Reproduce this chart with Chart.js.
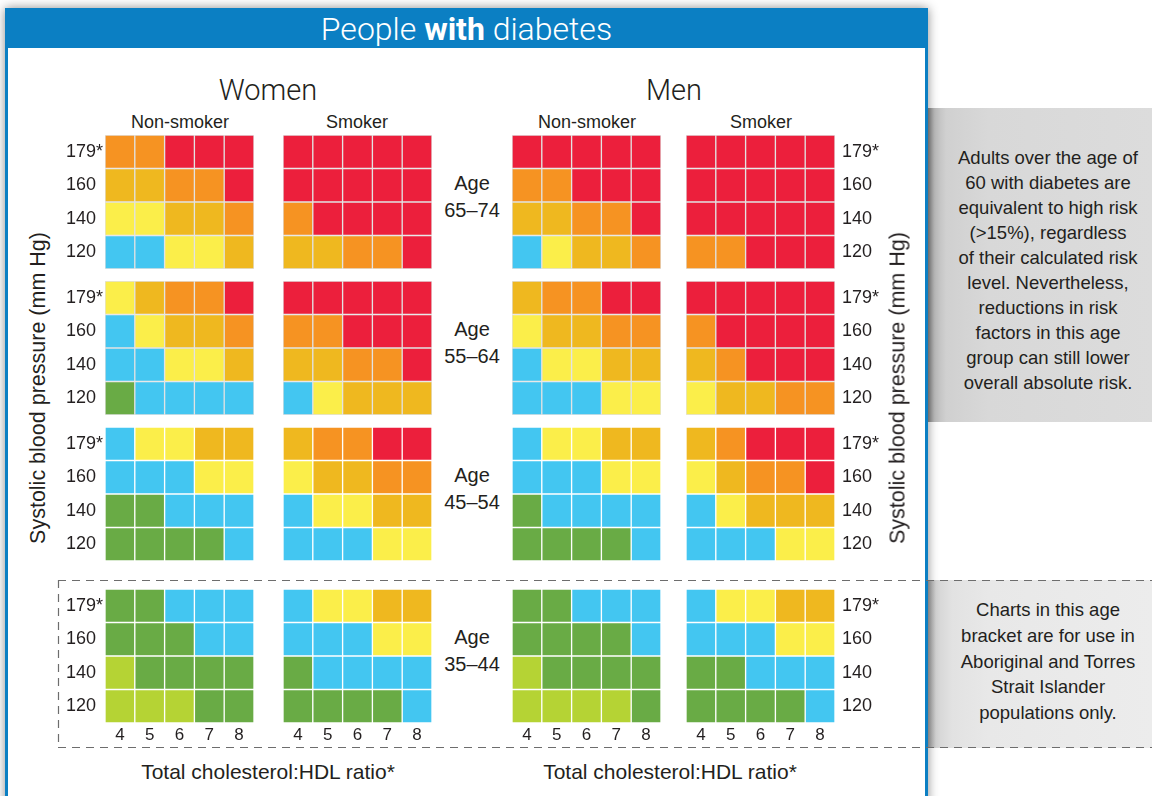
<!DOCTYPE html>
<html>
<head>
<meta charset="utf-8">
<script src="https://cdn.jsdelivr.net/npm/chart.js@4.4.1/dist/chart.umd.min.js"></script>
<style>
body { margin:0; width:1152px; height:796px; overflow:hidden; background:#fff; position:relative;
       font-family:"Liberation Sans", Arial, sans-serif; color:#231f20; }
.abs { position:absolute; }
.txt { position:absolute; transform:translate(-50%,-50%); white-space:nowrap; }
#panel { left:5px; top:8px; width:917px; height:820px; background:#fff;
         border-left:3px solid #0b7fc3; border-right:3px solid #0b7fc3;
         box-shadow:0 0 10px rgba(0,0,0,0.45); z-index:2; }
#head { left:5px; top:8px; width:923px; height:40px; background:#0b7fc3; color:#fff;
        font:300 32px Roboto, sans-serif; text-align:center; line-height:42px; z-index:3; }
#head b { font-weight:700; }
.side { left:928px; width:208px; padding-left:16px; text-align:center; font-size:18.5px; line-height:25px; z-index:1; }
#side1 { top:108px; height:314px; background:linear-gradient(to right,#8c8c8c 0px,#bababa 6px,#d0d0d0 18px,#d8d8d8 60px,#dcdcdc 100%); }
#side2 { top:580px; height:168px; line-height:25.75px; background:linear-gradient(to right,#a8a8a8 0px,#d4d4d4 8px,#e2e2e2 24px,#e8e8e8 60px,#ececec 100%); }
svg, canvas, .txt { z-index:4; }
</style>
</head>
<body>
<div id="panel" class="abs"></div>
<div id="head" class="abs">People <b>with</b> diabetes</div>
<div id="side1" class="abs side"><div style="padding-top:37px">Adults over the age of<br>60 with diabetes are<br>equivalent to high risk<br>(&gt;15%), regardless<br>of their calculated risk<br>level. Nevertheless,<br>reductions in risk<br>factors in this age<br>group can still lower<br>overall absolute risk.</div></div>
<div id="side2" class="abs side"><div style="padding-top:17px">Charts in this age<br>bracket are for use in<br>Aboriginal and Torres<br>Strait Islander<br>populations only.</div></div>
<svg class="abs" style="left:0;top:0" width="1152" height="796">
  <path d="M58 580.5 H1152 M58 747.5 H1152 M58.5 580 V748" stroke="#6d6d6d" stroke-width="1.2" stroke-dasharray="8 6" fill="none"/>
</svg>
<script>
var cholRatios = ['4', '5', '6', '7', '8'];
var bpLabels = ['179*', '160', '140', '120'];
var ageGroups = ['65–74', '55–64', '45–54', '35–44'];
// 0 light green, 1 green, 2 blue, 3 yellow, 4 gold, 5 orange, 6 red
var riskColours = ['#b5d334', '#69ab45', '#43c6f1', '#fbee4a', '#efb81f', '#f69322', '#ec1f3c'];

// rows are 179*, 160, 140, 120 ; columns are ratio 4..8
var women65Non = [[5,5,6,6,6],[4,4,5,5,6],[3,3,4,4,5],[2,2,3,3,4]];
var women65Smk = [[6,6,6,6,6],[6,6,6,6,6],[5,6,6,6,6],[4,4,5,5,6]];
var men65Non   = [[6,6,6,6,6],[5,5,6,6,6],[4,4,5,5,6],[2,3,4,4,5]];
var men65Smk   = [[6,6,6,6,6],[6,6,6,6,6],[6,6,6,6,6],[5,5,6,6,6]];

var women55Non = [[3,4,5,5,6],[2,3,4,4,5],[2,2,3,3,4],[1,2,2,2,2]];
var women55Smk = [[6,6,6,6,6],[5,5,6,6,6],[4,4,5,5,6],[2,3,4,4,4]];
var men55Non   = [[4,5,5,6,6],[3,4,4,5,5],[2,3,3,4,4],[2,2,2,3,3]];
var men55Smk   = [[6,6,6,6,6],[5,6,6,6,6],[4,5,6,6,6],[3,4,4,5,5]];

var women45Non = [[2,3,3,4,4],[2,2,2,3,3],[1,1,2,2,2],[1,1,1,1,2]];
var women45Smk = [[4,5,5,6,6],[3,4,4,5,5],[2,3,3,4,4],[2,2,2,3,3]];
var men45Non   = [[2,3,3,4,4],[2,2,2,3,3],[1,2,2,2,2],[1,1,1,1,2]];
var men45Smk   = [[4,5,6,6,6],[3,4,5,5,6],[2,3,4,4,4],[2,2,2,3,3]];

var women35Non = [[1,1,2,2,2],[1,1,1,2,2],[0,1,1,1,1],[0,0,0,1,1]];
var women35Smk = [[2,3,3,4,4],[2,2,2,3,3],[1,2,2,2,2],[1,1,1,1,2]];
var men35Non   = [[1,1,2,2,2],[1,1,1,1,2],[0,1,1,1,1],[0,0,0,0,1]];
var men35Smk   = [[2,3,3,4,4],[2,2,2,3,3],[1,1,2,2,2],[1,1,1,1,2]];

var allGrids = [
  [women65Non, women65Smk, men65Non, men65Smk],
  [women55Non, women55Smk, men55Non, men55Smk],
  [women45Non, women45Smk, men45Non, men45Smk],
  [women35Non, women35Smk, men35Non, men35Smk]
];

var gridLeft = [106, 284, 513, 687];
var gridTop = [136, 282, 428, 590];
var gapColour = ['#e2e2e2', '#e2e2e2', '#ffffff', '#ffffff'];
var tickFont = { family: 'Liberation Sans', size: 18 };

function label(text, cx, cy, css) {
  var d = document.createElement('div');
  d.className = 'txt';
  d.innerHTML = text;
  d.style.left = cx + 'px';
  d.style.top = cy + 'px';
  d.style.cssText += css || '';
  document.body.appendChild(d);
}

function noPad(s) {
  s.paddingTop = 0; s.paddingBottom = 0; s.paddingLeft = 0; s.paddingRight = 0;
}

function grid(cells, col, row) {
  var showLeft = col == 0, showRight = col == 3, showX = row == 3;
  var L = showLeft ? 39 : 0, R = showRight ? 60 : 0, B = showX ? 26 : 0;
  var w = 149, h = 134;
  var c = document.createElement('canvas');
  c.width = w + L + R;
  c.height = h + B;
  c.className = 'abs';
  c.style.left = (gridLeft[col] - 1 - L) + 'px';
  c.style.top = (gridTop[row] - 1) + 'px';
  document.body.appendChild(c);

  var datasets = [];
  for (var r = 3; r >= 0; r--) {
    datasets.push({
      label: bpLabels[r],
      data: cholRatios.map(function() { return 1; }),
      backgroundColor: cells[r].map(function(v) { return riskColours[v]; }),
      borderColor: gapColour[row],
      borderWidth: 1,
      borderSkipped: false,
      barPercentage: 1,
      categoryPercentage: 1
    });
  }

  new Chart(c, {
    type: 'bar',
    data: { labels: cholRatios, datasets: datasets },
    options: {
      responsive: false,
      animation: false,
      layout: { padding: 0 },
      plugins: { legend: { display: false }, tooltip: { enabled: false } },
      scales: {
        x: {
          display: showX,
          stacked: true,
          grid: { display: false, drawTicks: false },
          border: { display: false },
          ticks: { font: { family: 'Liberation Sans', size: 17 }, color: '#231f20', padding: 2 },
          afterFit: function(s) { s.height = B; noPad(s); }
        },
        y: {
          display: showLeft || showRight,
          position: showRight ? 'right' : 'left',
          stacked: true,
          min: 0,
          max: 4,
          grid: { display: false, drawTicks: false },
          border: { display: false },
          afterBuildTicks: function(s) {
            s.ticks = [3.5, 2.5, 1.5, 0.5].map(function(v) { return { value: v }; });
          },
          ticks: {
            font: tickFont,
            color: '#231f20',
            padding: showRight ? 7 : 0,
            crossAlign: showRight ? 'near' : 'far',
            callback: function(v) { return bpLabels[3 - Math.floor(v)]; }
          },
          afterFit: function(s) { s.width = showRight ? R : L; noPad(s); }
        }
      }
    }
  });
}

for (var row = 0; row < 4; row++) {
  for (var col = 0; col < 4; col++) {
    grid(allGrids[row][col], col, row);
  }
  var mid = gridTop[row] + 66;
  label('Age', 472, mid - 19, 'font-size:20px');
  label(ageGroups[row], 472, mid + 8, 'font-size:20px');
}

label('Women', 268, 90, 'font:300 29px Roboto');
label('Men', 674, 90, 'font:300 29px Roboto');
label('Non-smoker', 180, 122, 'font-size:18px');
label('Smoker', 357, 122, 'font-size:18px');
label('Non-smoker', 587, 122, 'font-size:18px');
label('Smoker', 761, 122, 'font-size:18px');
label('Systolic blood pressure (mm Hg)', 38, 388, 'font-size:21.5px;transform:translate(-50%,-50%) rotate(-90deg)');
label('Systolic blood pressure (mm Hg)', 898, 388, 'font-size:21.5px;transform:translate(-50%,-50%) rotate(-90deg)');
label('Total cholesterol:HDL ratio*', 268, 772, 'font-size:21px');
label('Total cholesterol:HDL ratio*', 670, 772, 'font-size:21px');
</script>
</body>
</html>
